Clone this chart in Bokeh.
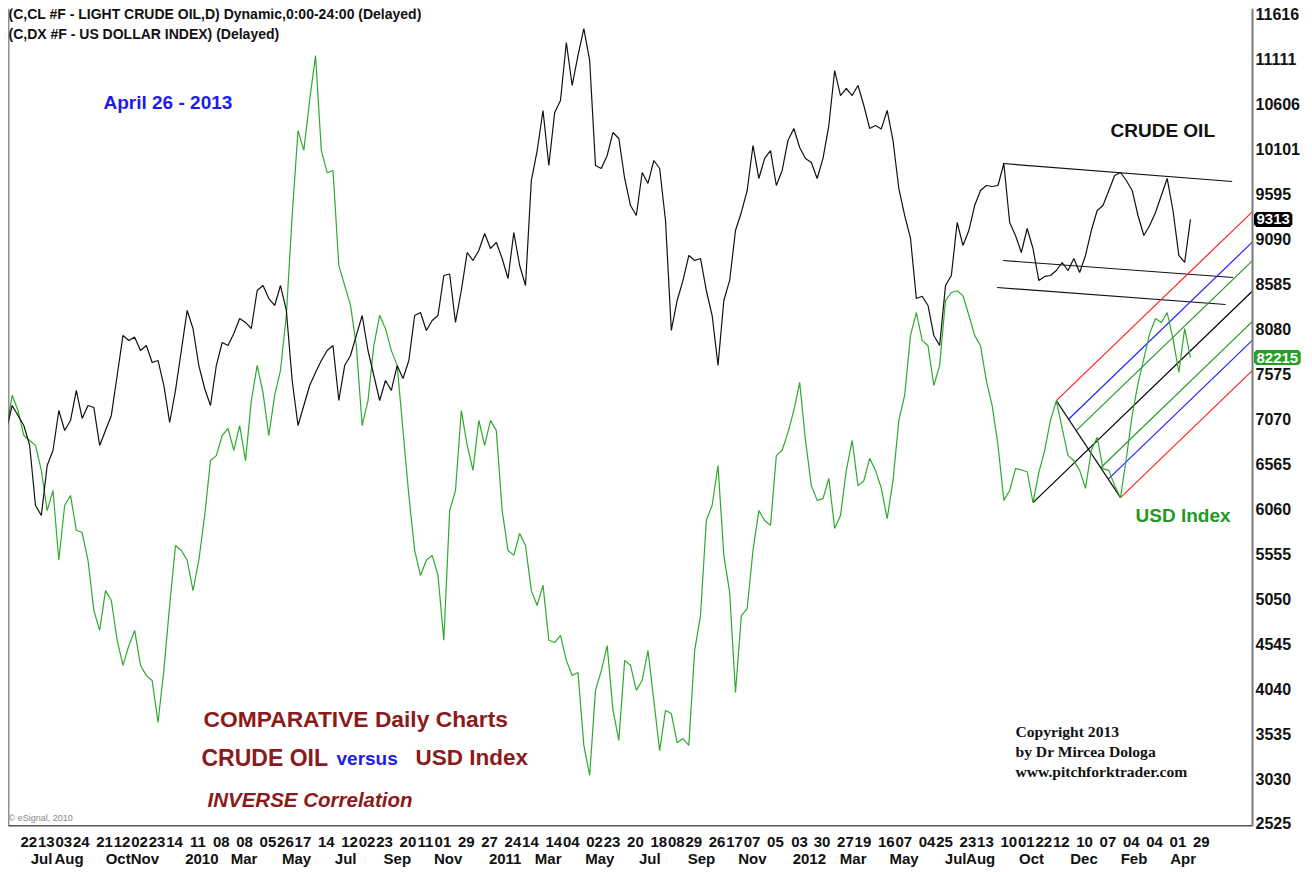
import pandas as pd
from bokeh.plotting import figure
from bokeh.models import Range1d, LinearAxis, FixedTicker, Label, Span
from bokeh.embed import file_html
from bokeh.resources import INLINE

# ---------------- data (weekly readings, Friday closes) ----------------
weeks = pd.date_range("2009-06-05", "2013-04-26", freq="W-FRI")

crude = [
    6941, 7222, 7110, 6997, 6773, 6098, 5986, 6548, 6716, 7166,
    6941, 7053, 7391, 7076, 7222, 7200, 6773, 6941, 7110, 7559,
    8009, 7952, 7990, 7840, 7896, 7705, 7728, 7447, 7031, 7391,
    7840, 8290, 8087, 7671, 7413, 7222, 7671, 7930, 7896, 8031,
    8200, 8155, 8087, 8514, 8570, 8424, 8346, 8570, 8290, 7503,
    6997, 7222, 7447, 7593, 7728, 7840, 7896, 7278, 7671, 7784,
    8009, 8233, 7840, 7559, 7278, 7503, 7391, 7671, 7525, 7728,
    8233, 8267, 8065, 8177, 8233, 8683, 8700, 8155, 8514, 8941,
    8851, 8964, 9155, 8986, 9054, 8874, 8649, 9166, 8795, 8570,
    9750, 10087, 10537, 9919, 10514, 10649, 11301, 10818, 11155, 11458,
    11099, 9919, 9885, 10031, 10290, 10222, 9773, 9469, 9357, 9840,
    9717, 9975, 9885, 9301, 8065, 8402, 8627, 8908, 8851, 8874,
    8514, 8233, 7671, 8402, 8627, 9188, 9391, 9638, 10144, 9773,
    9998, 10087, 9694, 9863, 10200, 10335, 10121, 9998, 9953, 9773,
    9998, 10368, 10986, 10705, 10784, 10705, 10818, 10593, 10335, 10368,
    10330, 10537, 10200, 9660, 9357, 9099, 8424, 8450, 8346, 8009,
    7896, 8570, 8683, 9278, 9020, 9188, 9469, 9638, 9694, 9683,
    9694, 9941, 9278, 9132, 8941, 9211, 8986, 8627, 8672, 8683,
    8739, 8829, 8739, 8874, 8717, 8908, 9188, 9413, 9469, 9638,
    9807, 9840, 9750, 9638, 9357, 9132, 9245, 9391, 9582, 9773,
    9413, 8908, 8829, 9313,
]

usd = [
    80.58, 81.37, 81.03, 80.47, 80.36, 80.25, 79.69, 78.79, 79.24, 77.68,
    78.91, 79.13, 78.35, 78.30, 77.68, 76.56, 76.11, 77.00, 76.78, 75.89,
    75.33, 75.77, 76.11, 75.33, 75.10, 74.99, 74.05, 75.21, 76.67, 78.01,
    77.90, 77.68, 77.00, 77.68, 78.68, 79.91, 80.02, 80.47, 80.63, 80.14,
    80.69, 79.91, 81.25, 82.04, 81.43, 80.47, 81.37, 81.93, 83.16, 85.39,
    87.29, 86.85, 87.97, 88.97, 86.85, 86.35, 86.40, 84.27, 83.83, 83.38,
    82.48, 80.69, 81.25, 82.48, 83.16, 82.86, 82.37, 82.04, 80.58, 79.13,
    77.90, 77.34, 77.68, 77.79, 77.34, 75.89, 78.79, 79.24, 81.03, 80.25,
    79.69, 80.81, 80.25, 80.81, 80.58, 78.79, 77.90, 77.79, 78.28, 78.01,
    77.00, 76.67, 77.12, 75.89, 75.84, 76.00, 75.44, 75.10, 75.17, 73.54,
    72.87, 74.77, 75.21, 75.77, 74.32, 73.65, 75.44, 75.33, 74.77, 74.99,
    75.66, 74.54, 73.42, 74.32, 74.25, 73.60, 73.69, 73.54, 75.66, 76.44,
    78.57, 78.91, 79.80, 77.79, 76.96, 74.72, 76.44, 76.60, 77.90, 78.79,
    78.57, 78.46, 80.02, 80.14, 80.54, 81.03, 81.66, 80.36, 79.35, 79.02,
    79.06, 79.51, 78.39, 78.68, 79.69, 80.36, 79.35, 79.46, 79.96, 79.69,
    79.29, 78.61, 79.46, 80.81, 81.37, 82.71, 83.22, 82.60, 82.48, 81.59,
    82.04, 83.49, 83.67, 83.71, 83.60, 83.16, 82.71, 82.48, 81.70, 81.14,
    80.25, 79.02, 79.24, 79.73, 79.70, 79.66, 78.97, 79.64, 80.14, 80.81,
    81.25, 80.63, 80.02, 79.91, 79.69, 79.29, 80.14, 80.43, 79.73, 79.69,
    79.35, 79.08, 79.96, 80.92, 81.63, 82.19, 82.75, 83.09, 83.00, 83.22,
    82.64, 81.88, 82.86, 82.215,
]

# Andrews pitchfork on the USD index (P0, P1, P2)
pivot_dates = ["2012-10-19", "2012-11-16", "2013-02-01"]
pivot_usd = [78.97, 81.25, 79.08]
fork_levels = [0.0, 0.191, 0.309, 0.5, 0.691, 0.809, 1.0]
fork_colors = ["#ff2222", "#2222ff", "#229922", "#000000", "#229922", "#2222ff", "#ff2222"]

# crude oil channel lines
channel_dates = [["2012-09-13", "2013-06-15"], ["2012-09-13", "2013-06-16"], ["2012-09-06", "2013-06-07"]]
channel_values = [[9941, 9739], [8851, 8660], [8548, 8357]]

crude_ticks = [2525, 3030, 3535, 4040, 4545, 5050, 5555, 6060, 6565, 7070, 7575,
               8080, 8585, 9090, 9595, 10101, 10606, 11111, 11616]

day_ticks = ["2009-06-22", "2009-07-13", "2009-08-03", "2009-08-24", "2009-09-21", "2009-10-12",
             "2009-11-02", "2009-11-23", "2009-12-14",
             "2010-01-11", "2010-02-08", "2010-03-08", "2010-04-05", "2010-04-26", "2010-05-17",
             "2010-06-14", "2010-07-12", "2010-08-02", "2010-08-23", "2010-09-20", "2010-10-11",
             "2010-11-01", "2010-11-29", "2010-12-27",
             "2011-01-24", "2011-02-14", "2011-03-14", "2011-04-04", "2011-05-02", "2011-05-23",
             "2011-06-20", "2011-07-18", "2011-08-08", "2011-08-29", "2011-09-26", "2011-10-17",
             "2011-11-07", "2011-12-05",
             "2012-01-03", "2012-01-30", "2012-02-27", "2012-03-19", "2012-04-16", "2012-05-07",
             "2012-06-04", "2012-06-25", "2012-07-23", "2012-08-13", "2012-09-10", "2012-10-01",
             "2012-10-22", "2012-11-12", "2012-12-10",
             "2013-01-07", "2013-02-04", "2013-03-04", "2013-04-01", "2013-04-29"]
# first trading day of each labelled month, and its label
month_starts = ["2009-07-01", "2009-08-03", "2009-10-01", "2009-11-02", "2010-01-04", "2010-03-01",
                "2010-05-03", "2010-07-01", "2010-09-01", "2010-11-01", "2011-01-03", "2011-03-01",
                "2011-05-02", "2011-07-01", "2011-09-01", "2011-11-01", "2012-01-03", "2012-03-01",
                "2012-05-01", "2012-07-02", "2012-08-01", "2012-10-01", "2012-12-03", "2013-02-01",
                "2013-04-01"]
month_names = ["Jul", "Aug", "Oct", "Nov", "2010", "Mar", "May", "Jul", "Sep", "Nov", "2011", "Mar",
               "May", "Jul", "Sep", "Nov", "2012", "Mar", "May", "Jul", "Aug", "Oct", "Dec", "Feb", "Apr"]

# ---------------- layout ----------------
def ms(d):
    return pd.Timestamp(d).value / 1e6

# chart area: page x 8..1252, y 8..826; price scale strip: x 1252..1304
X0, X_AX = ms("2009-06-07 14:24"), ms("2013-07-09 09:36")
Y0, Y1 = 2491.0, 11683.0
U0, U1 = 71.724, 90.023
FRAME_L, FRAME_T, CHART_W, FRAME_H = 8, 8, 1244, 818
STRIP_W = 52
MS_PER_PX = (X_AX - X0) / CHART_W
X1 = X_AX + STRIP_W * MS_PER_PX

def at(px, py):
    return (X0 + (px - FRAME_L) * MS_PER_PX,
            Y1 - (py - FRAME_T) / FRAME_H * (Y1 - Y0))

p = figure(frame_width=CHART_W + STRIP_W, frame_height=FRAME_H, output_backend="svg",
           toolbar_location=None, x_range=Range1d(X0, X1), y_range=Range1d(Y0, Y1),
           x_axis_location=None, y_axis_location="right",
           min_border_left=FRAME_L, min_border_top=FRAME_T, min_border_right=0, min_border_bottom=0)
p.extra_y_ranges = {"usd": Range1d(U0, U1)}
p.grid.visible = False
p.outline_line_color = None
p.background_fill_color = "white"
p.border_fill_color = "white"

# right price axis: labels written into the price strip (left of the far edge)
ya = p.yaxis[0]
ya.ticker = FixedTicker(ticks=crude_ticks)
ya.major_label_text_font = "Liberation Sans"
ya.major_label_text_font_style = "bold"
ya.major_label_text_font_size = "16px"
ya.major_label_text_color = "#111111"
ya.major_tick_out = 0
ya.major_tick_in = 0
ya.minor_tick_out = 0
ya.minor_tick_in = 0
ya.major_label_standoff = -(STRIP_W - 3)
ya.axis_line_color = None
p.add_layout(Span(location=X_AX, dimension="height", line_color="#7a7a7a", line_width=2))

# bottom date axes: eSignal writes each label starting at its date
day_pos = [ms(d) + 8.3 * MS_PER_PX for d in day_ticks]
day_labels = [d[-2:] for d in day_ticks]
day_axis = LinearAxis(ticker=FixedTicker(ticks=day_pos),
                      major_label_overrides=dict(zip(day_pos, day_labels)),
                      major_tick_out=0, major_tick_in=0, minor_tick_out=0, minor_tick_in=0,
                      major_label_standoff=10, axis_line_color=None,
                      major_label_text_font="Liberation Sans", major_label_text_font_style="bold",
                      major_label_text_font_size="15px", major_label_text_color="#111111")
p.add_layout(day_axis, "below")

month_pos = [ms(d) + 0.5 * len(n) * 9.0 * MS_PER_PX for d, n in zip(month_starts, month_names)]
month_axis = LinearAxis(ticker=FixedTicker(ticks=month_pos),
                        major_label_overrides=dict(zip(month_pos, month_names)),
                        major_tick_out=0, major_tick_in=0, minor_tick_out=0, minor_tick_in=0,
                        major_label_standoff=0, axis_line_color=None,
                        major_label_text_font="Liberation Sans", major_label_text_font_style="bold",
                        major_label_text_font_size="15px", major_label_text_color="#111111")
p.add_layout(month_axis, "below")

p.add_layout(Span(location=X0, dimension="height", line_color="#222222", line_width=1.5))
p.line([X0, X_AX], [Y0, Y0], line_color="#555555", line_width=3)

# crude channel
for ds, vs in zip(channel_dates, channel_values):
    p.line([ms(d) for d in ds], vs, line_color="#111111", line_width=1.2)

# pitchfork (drawn up to the price scale)
fx = [ms(d) for d in pivot_dates]
fy = pivot_usd
mx, my = (fx[1] + fx[2]) / 2, (fy[1] + fy[2]) / 2
dx, dy = mx - fx[0], my - fy[0]
for lev, col in zip(fork_levels, fork_colors):
    if lev == 0.5:
        sx, sy = fx[0], fy[0]
    else:
        sx, sy = fx[1] + lev * (fx[2] - fx[1]), fy[1] + lev * (fy[2] - fy[1])
    t = (X_AX - sx) / dx
    ex, ey = sx + t * dx, sy + t * dy
    if ey > U1:  # stop at the top of the chart
        t = (U1 - sy) / dy
        ex, ey = sx + t * dx, sy + t * dy
    p.line([sx, ex], [sy, ey], line_color=col, line_width=1.2, y_range_name="usd")
p.line([fx[1], fx[2]], [fy[1], fy[2]], line_color="#111111", line_width=1.2, y_range_name="usd")

# series
wx = [ms(d) for d in weeks]
p.line(wx, usd, line_color="#2eaa2e", line_width=1.2, y_range_name="usd")
p.line(wx, crude, line_color="#111111", line_width=1.2)

# ---------------- texts ----------------
def put(text, px, py, size, color, style="bold", font="Liberation Sans"):
    x, y = at(px, py)
    p.add_layout(Label(x=x, y=y, text=text, text_font=font, text_font_size=f"{size}px",
                       text_color=color, text_font_style=style, text_align="left",
                       text_baseline="middle"))

DARK_RED = "#8c1a1a"
put("(C,CL #F - LIGHT CRUDE OIL,D) Dynamic,0:00-24:00 (Delayed)", 8, 13, 14, "#111111")
put("(C,DX #F - US DOLLAR INDEX)  (Delayed)", 8, 33, 14, "#111111")
put("April 26 - 2013", 103, 102, 19, "#1c1cf2")
put("CRUDE OIL", 1110, 130, 19, "#111111")
put("USD Index", 1135, 515, 19, "#229922")
put("COMPARATIVE Daily Charts", 203, 718, 22.8, DARK_RED)
put("CRUDE OIL", 201, 757, 23, DARK_RED)
put("versus", 336, 758, 19, "#1c1cf2")
put("USD Index", 415, 757, 22.5, DARK_RED)
put("INVERSE Correlation", 207, 799, 20.5, DARK_RED, style="bold italic")
put("Copyright 2013", 1015, 731, 15.6, "#111111", font="Liberation Serif")
put("by Dr Mircea Dologa", 1015, 751, 15.6, "#111111", font="Liberation Serif")
put("www.pitchforktrader.com", 1015, 771, 15.6, "#111111", font="Liberation Serif")
put("\u00a9 eSignal, 2010", 8, 817, 9, "#888888", style="normal")

# last-value tags on the price scale
usd_on_crude = Y0 + (usd[-1] - U0) / (U1 - U0) * (Y1 - Y0)
for val, txt, bg in [(crude[-1], str(crude[-1]), "#000000"),
                     (usd_on_crude, f"{usd[-1] * 1000:.0f}", "#22a022")]:
    p.add_layout(Label(x=X_AX, y=val, text=txt, x_offset=4,
                       text_font="Liberation Sans", text_font_style="bold", text_font_size="15px",
                       text_color="white", background_fill_color=bg,
                       border_line_color=bg, border_line_width=5,
                       text_align="left", text_baseline="middle"))

open("out.html", "w").write(file_html(p, INLINE))
